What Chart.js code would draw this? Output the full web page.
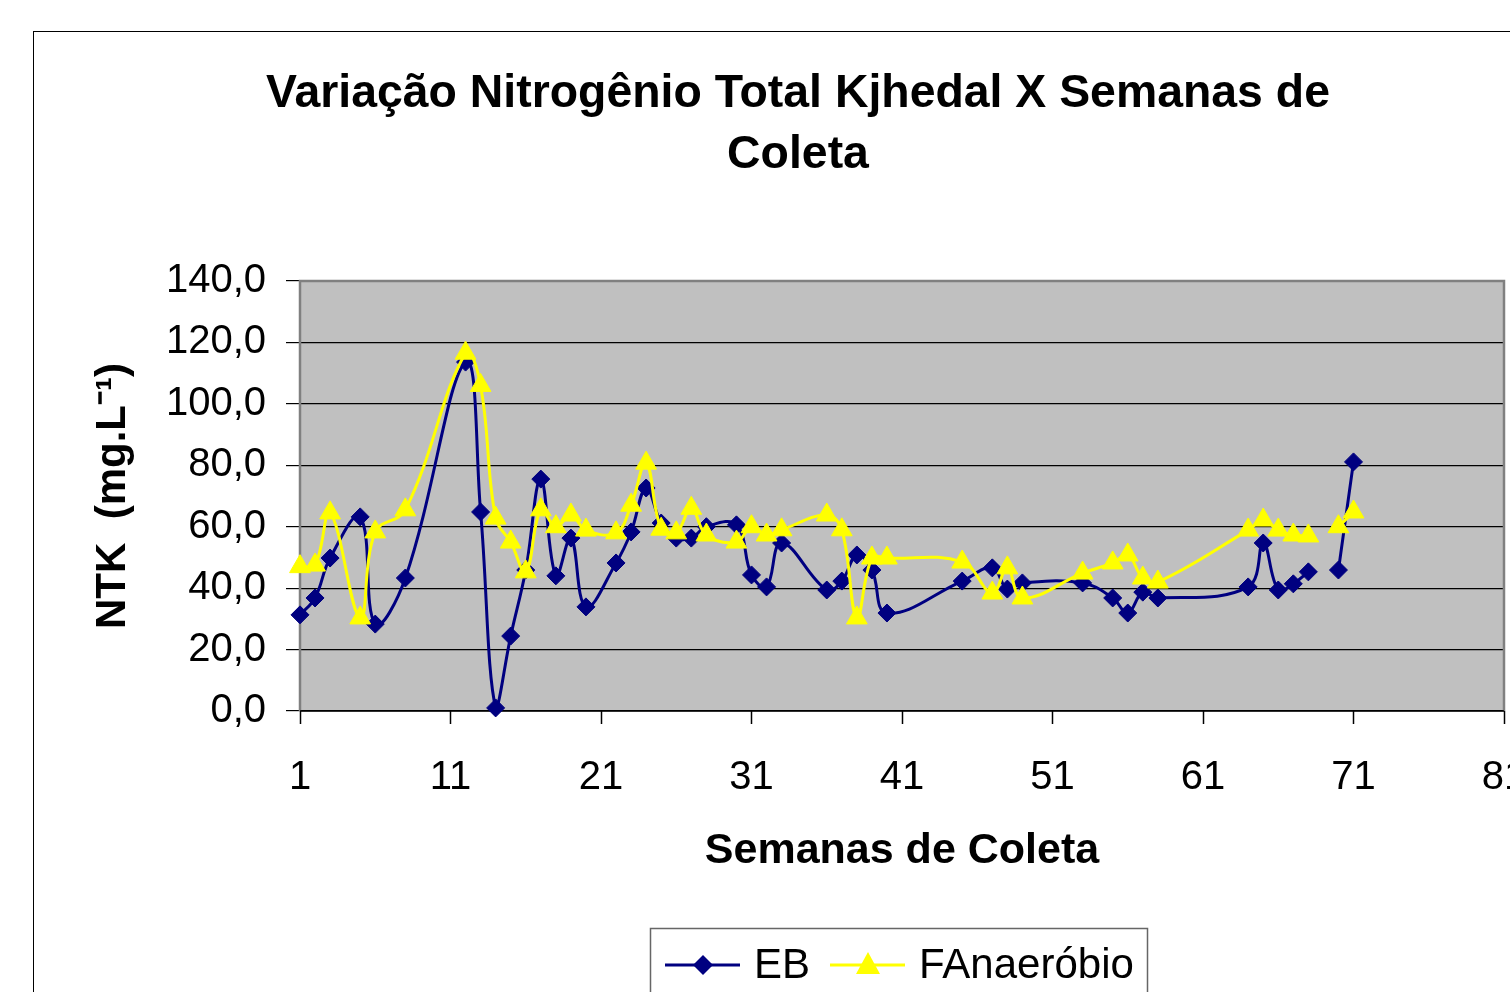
<!DOCTYPE html>
<html>
<head>
<meta charset="utf-8">
<script src="https://cdn.jsdelivr.net/npm/chart.js@4.4.1/dist/chart.umd.min.js"></script>
<style>
  html, body { margin: 0; padding: 0; background: #fff; overflow: hidden; }
  #wrap { width: 1510px; height: 992px; }
</style>
</head>
<body>
<div id="wrap"><canvas id="grafico"></canvas></div>
<script>
// semanas de coleta (69 = sem dado, quebra a linha)
const semanas = [1, 2, 3, 5, 6, 8, 12, 13, 14, 15, 16, 17, 18, 19, 20, 22, 23, 24, 25, 26, 27, 28,
  30, 31, 32, 33, 36, 37, 38, 39, 40, 45, 47, 48, 49, 53, 55, 56, 57, 58, 64, 65, 66, 67, 68, 69, 70, 71];
const ntkEB = [31.3, 36.8, 49.8, 63.2, 28.3, 43.3, 113.6, 64.8, 1.0, 24.4, 45.9, 75.5, 44.0, 56.3, 33.9,
  48.2, 58.3, 72.6, 61.2, 56.3, 56.3, 60.0, 60.6, 44.3, 40.4, 54.7, 39.4, 42.3, 50.8, 45.9, 31.9,
  42.3, 46.6, 39.7, 41.7, 41.7, 36.8, 31.9, 38.7, 36.8, 40.4, 54.7, 39.4, 41.4, 45.3, null, 45.9, 81.1];
const ntkFAn = [47.0, 47.5, 64.5, 30.3, 58.3, 65.5, 116.5, 106.0, 62.8, 55.0, 45.3, 65.5, 60.0, 63.8, 58.9,
  58.0, 67.0, 80.7, 59.2, 58.0, 66.0, 57.3, 55.0, 60.0, 57.3, 59.0, 63.8, 59.0, 30.3, 49.8, 49.8,
  48.5, 38.4, 46.6, 36.8, 44.9, 48.2, 50.8, 43.3, 42.0, 58.9, 62.2, 58.9, 57.3, 57.0, null, 60.0, 64.8];
const ticksX = [1, 11, 21, 31, 41, 51, 61, 71, 81];
const nomes = ['EB', 'FAnaeróbio'];

const FONTE = "'Liberation Sans', Arial, sans-serif";
const AZUL = '#000080';
const AMARELO = '#FFFF00';

function pontos(vals) {
  return semanas.map((s, i) => ({ x: s, y: vals[i] }));
}

const moldura = {
  id: 'moldura',
  beforeDraw(chart) {
    const c = chart.ctx, a = chart.chartArea;
    c.save();
    c.fillStyle = '#fff';
    c.fillRect(0, 0, chart.width, chart.height);
    c.strokeStyle = '#000';
    c.lineWidth = 1;
    c.strokeRect(33.5, 31.5, 1700, 1200);
    c.fillStyle = '#C0C0C0';
    c.fillRect(a.left, a.top, a.right - a.left, a.bottom - a.top);
    c.restore();
  },
  beforeDatasetsDraw(chart) {
    const c = chart.ctx, a = chart.chartArea;
    c.save();
    c.strokeStyle = '#808080';
    c.lineWidth = 2.5;
    c.beginPath();
    c.moveTo(a.left, a.bottom);
    c.lineTo(a.left, a.top);
    c.lineTo(a.right, a.top);
    c.lineTo(a.right, a.bottom);
    c.stroke();
    c.strokeStyle = '#000';
    c.lineWidth = 1.5;
    c.beginPath();
    c.moveTo(a.left, a.bottom);
    c.lineTo(a.right, a.bottom);
    c.stroke();
    c.restore();
  },
  afterDraw(chart) {
    const c = chart.ctx;
    c.save();
    // titulo
    c.fillStyle = '#000';
    c.textAlign = 'center';
    c.textBaseline = 'middle';
    const l1 = 'Variação Nitrogênio Total Kjhedal X Semanas de';
    c.font = 'bold 42px ' + FONTE;
    const tam = 42 * 1064 / c.measureText(l1).width;
    c.font = 'bold ' + tam.toFixed(1) + 'px ' + FONTE;
    c.fillText(l1, 798, 94);
    c.fillText('Coleta', 798, 155);

    // legenda
    c.strokeStyle = '#666';
    c.lineWidth = 1.5;
    c.strokeRect(650.5, 928.5, 497, 120);
    const yL = 965;
    c.lineWidth = 3;
    c.strokeStyle = AZUL;
    c.beginPath(); c.moveTo(665, yL); c.lineTo(740, yL); c.stroke();
    c.fillStyle = AZUL;
    c.beginPath();
    c.moveTo(703, yL - 10); c.lineTo(713, yL); c.lineTo(703, yL + 10); c.lineTo(693, yL);
    c.closePath(); c.fill();
    c.strokeStyle = AMARELO;
    c.beginPath(); c.moveTo(830, yL); c.lineTo(905, yL); c.stroke();
    c.fillStyle = AMARELO;
    c.beginPath();
    c.moveTo(868, yL - 13); c.lineTo(880, yL + 9); c.lineTo(856, yL + 9);
    c.closePath(); c.fill();
    c.fillStyle = '#000';
    c.font = '42px ' + FONTE;
    c.textAlign = 'left';
    c.fillText(nomes[0], 754, yL + 1);
    c.fillText(nomes[1], 919, yL + 1);
    c.restore();
  }
};

new Chart(document.getElementById('grafico'), {
  type: 'scatter',
  data: {
    datasets: [
      {
        label: nomes[0],
        data: pontos(ntkEB),
        showLine: true,
        spanGaps: false,
        tension: 0.4,
        borderColor: AZUL,
        borderWidth: 3,
        pointStyle: 'rectRot',
        pointRadius: 9,
        pointBackgroundColor: AZUL,
        pointBorderColor: AZUL,
        pointBorderWidth: 1,
        clip: false,
        order: 1
      },
      {
        label: nomes[1],
        data: pontos(ntkFAn),
        showLine: true,
        spanGaps: false,
        tension: 0.4,
        borderColor: AMARELO,
        borderWidth: 3,
        pointStyle: 'triangle',
        pointRadius: 12,
        pointBackgroundColor: AMARELO,
        pointBorderColor: AMARELO,
        pointBorderWidth: 1,
        clip: false,
        order: 0
      }
    ]
  },
  options: {
    responsive: true,
    maintainAspectRatio: false,
    animation: false,
    layout: { autoPadding: false, padding: { left: 0, right: 6, top: 281, bottom: 0 } },
    plugins: {
      legend: { display: false },
      title: { display: false },
      tooltip: { enabled: false }
    },
    scales: {
      x: {
        type: 'linear',
        min: 1,
        max: 81,
        afterBuildTicks: (s) => { s.ticks = ticksX.map(v => ({ value: v })); },
        afterFit: (s) => { s.height = 281; s.paddingLeft = 0; s.paddingRight = 0; },
        border: { display: false },
        grid: { drawOnChartArea: false, drawTicks: true, tickLength: 13, tickColor: '#000', tickWidth: 1.5 },
        ticks: { color: '#000', font: { family: FONTE, size: 40 }, padding: 30, maxRotation: 0 },
        title: {
          display: true,
          text: 'Semanas de Coleta',
          color: '#000',
          font: { family: FONTE, size: 43, weight: 'bold' },
          padding: { top: 0, bottom: 115 }
        }
      },
      y: {
        min: 0,
        max: 140,
        afterFit: (s) => { s.width = 300; s.paddingTop = 0; s.paddingBottom = 0; },
        border: { display: false },
        grid: { color: '#000', lineWidth: 1.2, drawTicks: true, tickLength: 14, tickColor: '#000' },
        ticks: {
          stepSize: 20,
          color: '#000',
          font: { family: FONTE, size: 40 },
          padding: 20,
          callback: (v) => v.toFixed(1).replace('.', ',')
        },
        title: {
          display: true,
          text: 'NTK  (mg.L⁻¹)',
          color: '#000',
          font: { family: FONTE, size: 42, weight: 'bold' },
          padding: { top: 88, bottom: 0 }
        }
      }
    }
  },
  plugins: [moldura]
});
</script>
</body>
</html>
